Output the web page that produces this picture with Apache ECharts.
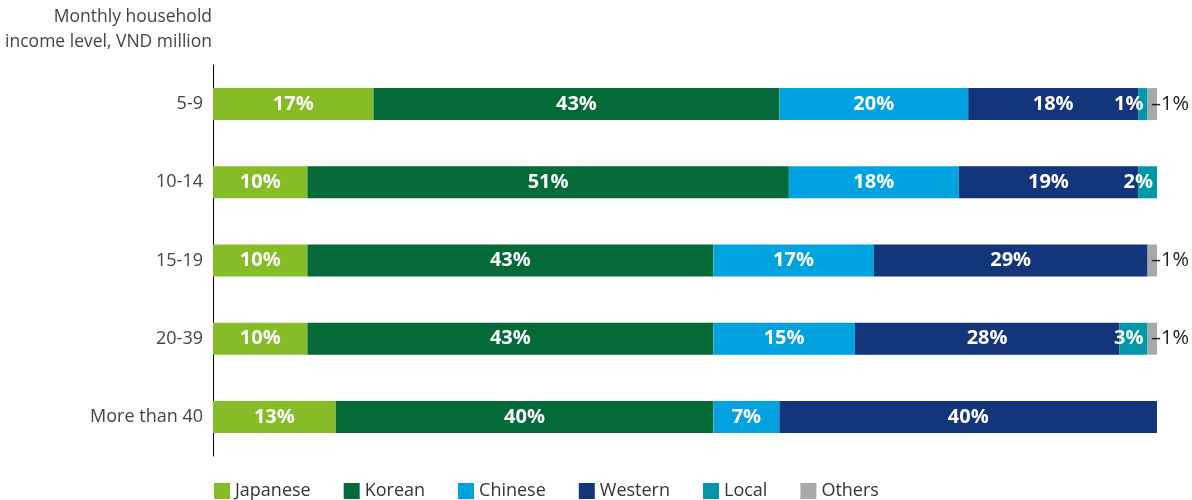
<!DOCTYPE html>
<html>
<head>
<meta charset="utf-8">
<script src="https://cdn.jsdelivr.net/npm/echarts@6/dist/echarts.min.js"></script>
<style>
  html, body { margin: 0; padding: 0; background: #fff; }
  #chart { width: 1192px; height: 500px; }
</style>
</head>
<body>
<div id="chart"></div>
<script>
// Income groups, top to bottom
const incomeGroups = ['5-9', '10-14', '15-19', '20-39', 'More than 40'];

// Share of each cuisine preference per income group (%)
const japanese = [17, 10, 10, 10, 13];
const korean   = [43, 51, 43, 43, 40];
const chinese  = [20, 18, 17, 15, 7];
const western  = [18, 19, 29, 28, 40];
const local    = [1, 2, 0, 3, 0];
const others   = [1, 0, 1, 1, 0];

const seriesNames  = ['Japanese', 'Korean', 'Chinese', 'Western', 'Local', 'Others'];
const seriesValues = [japanese, korean, chinese, western, local, others];
const seriesColors = ['#86BC25', '#046A38', '#00A3E0', '#13357C', '#0097A9', '#A7A8AA'];

const FONT = '"Open Sans", "Noto Sans", sans-serif';

// Tiny "Others" slices get their value outside the bar with a short dash
function buildData(name, values) {
  return values.map(v => {
    if (!v) return { value: null };
    const item = { value: v };
    if (v <= 1 && name === 'Others') {
      item.label = {
        position: 'right', distance: -6, color: '#222', fontWeight: 'normal',
        fontSize: 20, formatter: '\u2013' + v + '%'
      };
    }
    return item;
  });
}

const series = seriesNames.map((name, i) => ({
  name,
  type: 'bar',
  stack: 'total',
  barWidth: 32,
  itemStyle: { color: seriesColors[i] },
  label: {
    show: true,
    position: name === 'Local' ? 'insideRight' : 'inside',
    distance: 4,
    color: '#fff',
    fontFamily: FONT,
    fontWeight: 'bold',
    fontSize: 20,
    formatter: p => p.value + '%'
  },
  data: buildData(name, seriesValues[i])
}));

const chart = echarts.init(document.getElementById('chart'));
chart.setOption({
  animation: false,
  textStyle: { fontFamily: FONT },
  grid: { left: 213, right: 35, top: 65, bottom: 44, containLabel: false },
  xAxis: {
    type: 'value', min: 0, max: 100, show: false
  },
  yAxis: {
    type: 'category',
    data: incomeGroups,
    inverse: true,
    axisLine: { show: true, lineStyle: { color: '#000', width: 1 } },
    axisTick: { show: false },
    axisLabel: { color: '#444', fontSize: 18, fontFamily: FONT, margin: 10 }
  },
  legend: {
    left: 209, top: 477,
    itemWidth: 16, itemHeight: 16, itemGap: 33,
    icon: 'rect',
    textStyle: { color: '#333', fontSize: 18, fontFamily: FONT, padding: [0, 0, 0, 0] },
    data: seriesNames
  },
  graphic: [{
    type: 'text',
    right: 1192 - 212,
    top: 5,
    style: {
      text: 'Monthly household\nincome level, VND million',
      textAlign: 'right',
      fill: '#444',
      font: '17.5px ' + FONT,
      lineHeight: 25
    }
  }],
  series
});
</script>
</body>
</html>
